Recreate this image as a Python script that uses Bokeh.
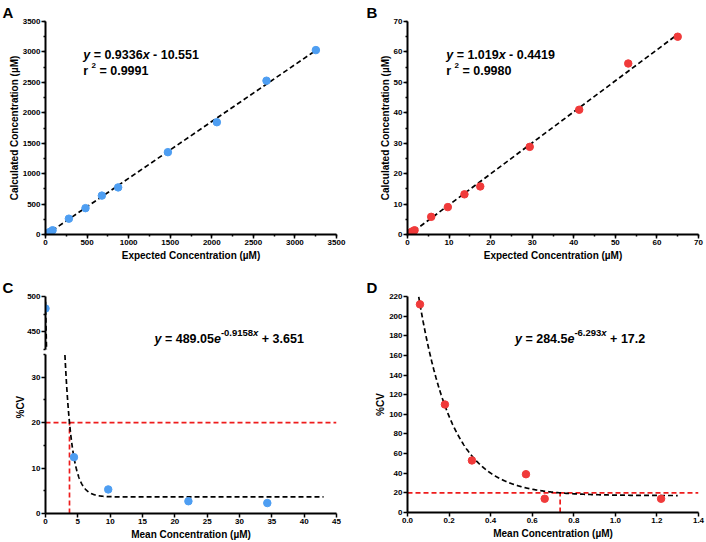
import numpy as np
from bokeh.plotting import figure
from bokeh.models import Range1d, Label, SingleIntervalTicker, FixedTicker, Title
from bokeh.layouts import row, column
from bokeh.embed import file_html
from bokeh.resources import INLINE

# ---------------- data ----------------
a_expected = [0, 25, 55, 85, 281, 481, 678, 874, 1472, 2061, 2658, 3252]
a_calculated = [0, 20, 45, 70, 260, 433, 639, 774, 1353, 1845, 2527, 3030]
a_slope, a_intercept = 0.9336, -10.551

b_expected = [0.0, 0.5, 1.1, 1.7, 5.7, 9.7, 13.7, 17.5, 29.4, 41.3, 53.1, 65.0]
b_calculated = [0.0, 0.5, 1.0, 1.4, 5.8, 9.0, 13.2, 15.8, 28.8, 41.0, 56.2, 65.0]
b_slope, b_intercept = 1.019, -0.4419

c_mean = [0.0, 4.4, 9.7, 22.1, 34.3]
c_cv = [483, 12.4, 5.3, 2.7, 2.3]
c_a, c_k, c_c = 489.05, 0.9158, 3.651

d_mean = [0.06, 0.18, 0.31, 0.57, 0.66, 1.22]
d_cv = [212, 110, 53, 39, 14, 14]
d_a, d_k, d_c = 284.5, 6.293, 17.2

cv_limit = 20

BLUE = "#4E9EF2"
RED = "#F03A3A"
DASHRED = "#EE1C1C"
FONT = "Liberation Sans"

# Arial/Liberation bold advance widths (em)
W = {' ': .278, '=': .584, '.': .278, '-': .333, '+': .584, 'x': .556, 'y': .556,
     'e': .556, 'r': .389}


def tw(s, size):
    return sum(W.get(ch, .556) for ch in s) * size


def add_pieces(p, x, y, x_off, y_off, pieces):
    cur = x_off
    for txt, style, size, dy in pieces:
        core = txt.strip()
        lead = len(txt) - len(txt.lstrip())
        trail = len(txt) - len(txt.rstrip())
        cur += lead * W[' '] * size
        p.add_layout(Label(x=x, y=y, x_offset=cur, y_offset=y_off + dy, text=core,
                           text_font=FONT, text_font_style=style,
                           text_font_size=f"{size}px", text_color="black",
                           text_align="left", text_baseline="alphabetic"))
        cur += tw(core, size) + trail * W[' '] * size


def make_fig(w, h, xr, yr, left, right, top, bottom, xaxis=True, letter=None, letter_off=-43):
    p = figure(width=w, height=h, x_range=Range1d(*xr), y_range=Range1d(*yr),
               output_backend="svg", toolbar_location=None,
               x_axis_location="below" if xaxis else None,
               min_border_left=left, min_border_right=right,
               min_border_top=top, min_border_bottom=bottom)
    p.xgrid.visible = False
    p.ygrid.visible = False
    p.outline_line_color = None
    p.background_fill_color = "white"
    p.border_fill_color = "white"
    if letter:
        p.title.text = letter
        p.title.align = "left"
        p.title.offset = letter_off
        p.title.standoff = 2
        p.title.text_font = FONT
        p.title.text_font_style = "bold"
        p.title.text_font_size = "15px"
        p.title.text_color = "black"
    for ax in p.axis:
        ax.axis_line_width = 2
        ax.axis_line_color = "black"
        ax.major_tick_line_width = 1.5
        ax.minor_tick_line_width = 1.5
        ax.major_tick_out = 4
        ax.major_tick_in = 0
        ax.minor_tick_out = 2
        ax.minor_tick_in = 0
        ax.major_label_standoff = 1
        ax.major_label_text_font = FONT
        ax.major_label_text_font_style = "bold"
        ax.major_label_text_font_size = "8px"
        ax.major_label_text_color = "black"
        ax.axis_label_text_font = FONT
        ax.axis_label_text_font_style = "bold"
        ax.axis_label_text_font_size = "10px"
        ax.axis_label_text_color = "black"
    for ax in p.xaxis:
        ax.axis_label_standoff = 2
    for ax in p.yaxis:
        ax.axis_label_standoff = 0
    return p


# ---------------- A ----------------
pa = make_fig(353, 271, (0, 3500), (0, 3500), 45, 17, 18, 37, letter="A", letter_off=-43)
pa.xaxis.ticker = SingleIntervalTicker(interval=500, num_minor_ticks=2)
pa.yaxis.ticker = SingleIntervalTicker(interval=500, num_minor_ticks=2)
pa.xaxis.axis_label = "Expected Concentration (µM)"
pa.yaxis.axis_label = "Calculated Concentration (µM)"
xa = [0, max(a_expected)]
pa.line(xa, [a_slope * v + a_intercept for v in xa], line_color="black",
        line_width=1.7, line_dash="5 3")
pa.scatter(a_expected, a_calculated, size=7.5, color=BLUE)
add_pieces(pa, 0, 3500, 37.7, -33, [("y", "bold italic", 12.5, 0), (" = 0.9336", "bold", 12.5, 0),
                                   ("x", "bold italic", 12.5, 0), (" - 10.551", "bold", 12.5, 0)])
add_pieces(pa, 0, 3500, 37.7, -49, [("r ", "bold", 12.5, 0), ("2", "bold", 8, 5),
                                   (" = 0.9991", "bold", 12.5, 0)])

# ---------------- B ----------------
pb = make_fig(353, 271, (0, 70), (0, 70), 54, 8, 18, 37, letter="B", letter_off=-41)
pb.xaxis.ticker = SingleIntervalTicker(interval=10, num_minor_ticks=2)
pb.yaxis.ticker = SingleIntervalTicker(interval=10, num_minor_ticks=2)
pb.xaxis.axis_label = "Expected Concentration (µM)"
pb.yaxis.axis_label = "Calculated Concentration (µM)"
xb = [0, max(b_expected)]
pb.line(xb, [b_slope * v + b_intercept for v in xb], line_color="black",
        line_width=1.7, line_dash="5 3")
pb.scatter(b_expected, b_calculated, size=7.5, color=RED)
add_pieces(pb, 0, 70, 38.7, -33, [("y", "bold italic", 12.5, 0), (" = 1.019", "bold", 12.5, 0),
                                 ("x", "bold italic", 12.5, 0), (" - 0.4419", "bold", 12.5, 0)])
add_pieces(pb, 0, 70, 38.7, -49, [("r ", "bold", 12.5, 0), ("2", "bold", 8, 5),
                                 (" = 0.9980", "bold", 12.5, 0)])

# ---------------- C (broken axis) ----------------
xc_range = (0, 45)
cx = np.linspace(0, 43, 3000)
cy = c_a * np.exp(-c_k * cx) + c_c
c_loq = -np.log((cv_limit - c_c) / c_a) / c_k

pct = make_fig(353, 80, xc_range, (425, 500), 45, 17, 25, 2, xaxis=False, letter="C", letter_off=-43)
pct.yaxis.ticker = FixedTicker(ticks=[450, 500], minor_ticks=[425, 475])
pct.line(cx, cy, line_color="black", line_width=1.7, line_dash="5 3")
pct.scatter(c_mean, c_cv, size=7.5, color=BLUE)
add_pieces(pct, 0, 500, 109, -42, [("y", "bold italic", 12.5, 0), (" = 489.05", "bold", 12.5, 0),
                                  ("e", "bold italic", 12.5, 0), ("-0.9158", "bold", 9.5, 6),
                                  ("x", "bold italic", 9.5, 6), (" + 3.651", "bold", 12.5, 0)])

pcb = make_fig(353, 191, xc_range, (0, 35), 45, 17, 3, 29)
pcb.xaxis.ticker = SingleIntervalTicker(interval=5, num_minor_ticks=0)
pcb.yaxis.ticker = FixedTicker(ticks=[0, 10, 20, 30], minor_ticks=[5, 15, 25, 35])
pcb.xaxis.axis_label = "Mean Concentration (µM)"
pcb.add_layout(Title(text="%CV", align="left", offset=95, standoff=6, text_font=FONT,
                     text_font_style="bold", text_font_size="10px", text_color="black"), "left")
pcb.line([0, 45], [cv_limit, cv_limit], line_color=DASHRED, line_width=1.7, line_dash="5 3")
pcb.line([c_loq, c_loq], [0, cv_limit], line_color=DASHRED, line_width=1.7, line_dash="5 3")
pcb.line(cx, cy, line_color="black", line_width=1.7, line_dash="5 3")
pcb.scatter(c_mean, c_cv, size=7.5, color=BLUE)

# ---------------- D ----------------
pd_ = make_fig(353, 271, (0, 1.4), (0, 220), 54, 8, 25, 30, letter="D", letter_off=-41)
pd_.xaxis.ticker = FixedTicker(ticks=[0, 0.2, 0.4, 0.6, 0.8, 1.0, 1.2, 1.4])
pd_.xaxis.major_label_overrides = {0: "0.0", 0.2: "0.2", 0.4: "0.4", 0.6: "0.6", 0.8: "0.8",
                                   1.0: "1.0", 1.2: "1.2", 1.4: "1.4"}
pd_.yaxis.ticker = SingleIntervalTicker(interval=20, num_minor_ticks=0)
pd_.xaxis.axis_label = "Mean Concentration (µM)"
pd_.yaxis.axis_label = "%CV"
dx = np.linspace(0.054, 1.3, 1500)
dy = d_a * np.exp(-d_k * dx) + d_c
d_loq = -np.log((cv_limit - d_c) / d_a) / d_k
pd_.line([0, 1.4], [cv_limit, cv_limit], line_color=DASHRED, line_width=1.7, line_dash="5 3")
pd_.line([d_loq, d_loq], [0, cv_limit], line_color=DASHRED, line_width=1.7, line_dash="5 3")
pd_.line(dx, dy, line_color="black", line_width=1.7, line_dash="5 3")
pd_.scatter(d_mean, d_cv, size=7.5, color=RED)
add_pieces(pd_, 0, 220, 107.5, -42, [("y", "bold italic", 12.5, 0), (" = 284.5", "bold", 12.5, 0),
                                    ("e", "bold italic", 12.5, 0), ("-6.293", "bold", 9.5, 6),
                                    ("x", "bold italic", 9.5, 6), (" + 17.2", "bold", 12.5, 0)])

layout = column(row(pa, pb), row(column(pct, pcb), pd_))
open("out.html", "w").write(file_html(layout, INLINE))
